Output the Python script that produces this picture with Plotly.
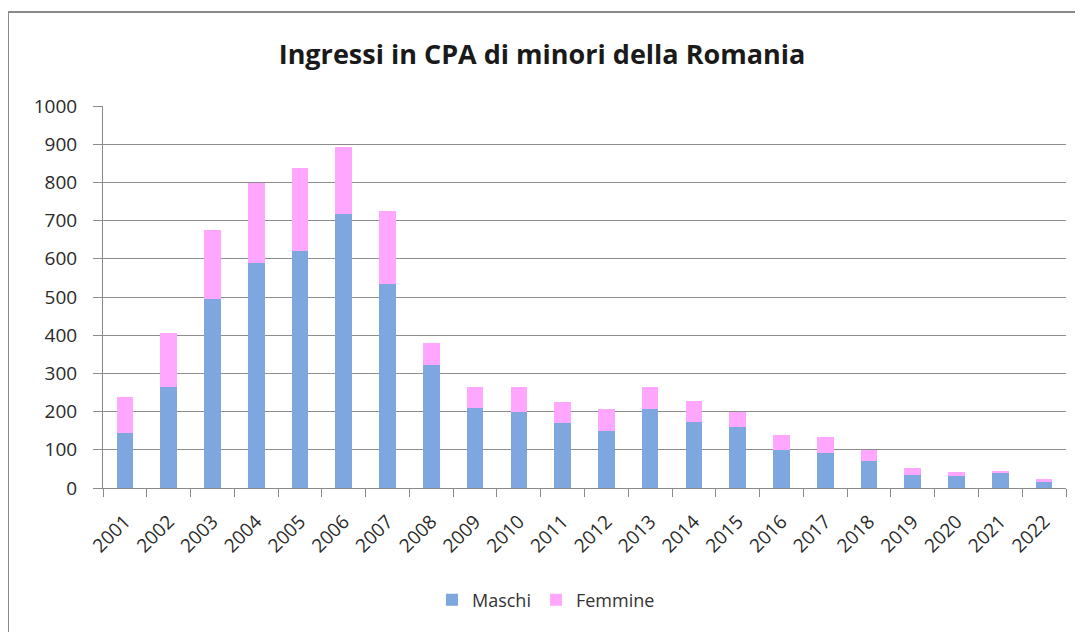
import plotly.graph_objects as go

years = [str(y) for y in range(2001, 2023)]
maschi = [143, 265, 495, 590, 620, 716, 534, 323, 209, 200, 171, 149, 206, 174, 161, 100, 91, 71, 34, 32, 40, 18]
femmine = [96, 140, 180, 208, 217, 177, 192, 57, 55, 64, 55, 57, 58, 55, 37, 39, 42, 29, 18, 11, 3, 5]

fig = go.Figure()
fig.add_trace(go.Bar(x=years, y=maschi, name="Maschi", marker=dict(color="#7DA7DE", line=dict(width=0))))
fig.add_trace(go.Bar(x=years, y=femmine, name="Femmine", marker=dict(color="#FFA6FF", line=dict(width=0))))

font = "Open Sans, Liberation Sans, sans-serif"
W, H = 1075, 624
L, T, PW, PH = 95, 98, 963, 382
fig.update_layout(
    barmode="stack",
    bargap=0.62,
    width=W, height=H,
    margin=dict(l=L, r=W - L - PW, t=T, b=H - T - PH, autoexpand=False),
    paper_bgcolor="white", plot_bgcolor="white",
    title=dict(text="<b>Ingressi in CPA di minori della Romania</b>", x=(542 - 8) / W, xanchor="center",
               y=1 - 47 / H, yanchor="middle", yref="container",
               font=dict(family=font, size=27, color="#1a1a1a")),
    legend=dict(orientation="h", x=0.46, xanchor="center", y=-0.293, yanchor="middle",
                font=dict(family=font, size=18, color="#333333"), traceorder="normal",
                itemwidth=30),
    font=dict(family=font, color="#333333"),
    showlegend=True,
)
fig.update_xaxes(type="category", tickangle=-45, tickson="boundaries", ticks="outside", ticklen=8,
                 tickcolor="#8a8a8a", showline=True, linecolor="#8a8a8a", linewidth=1,
                 ticklabelstandoff=14,
                 tickfont=dict(family=font, size=19, color="#2a2a2a"), showgrid=False)
fig.update_yaxes(range=[0, 1000], dtick=100, showgrid=True, gridcolor="#8c8c8c", gridwidth=1,
                 showline=True, linecolor="#8a8a8a", ticks="outside", ticklen=9, tickcolor="#8a8a8a",
                 ticklabelstandoff=12,
                 tickfont=dict(family=font, size=19, color="#2a2a2a"), zeroline=False)

# outer chart frame: only left and top edges are visible in the reference
x_left = (0 - L) / PW
x_right = (W + 10 - L) / PW
y_top = (T + PH - 4) / PH
y_bottom = (T + PH - H - 10) / PH
fig.add_shape(type="line", xref="paper", yref="paper", x0=x_left, x1=x_left, y0=y_bottom, y1=y_top,
              line=dict(color="#8a8a8a", width=2), layer="below")
fig.add_shape(type="line", xref="paper", yref="paper", x0=x_left, x1=x_right, y0=y_top, y1=y_top,
              line=dict(color="#8a8a8a", width=2), layer="below")

fig.write_html("out.html")
